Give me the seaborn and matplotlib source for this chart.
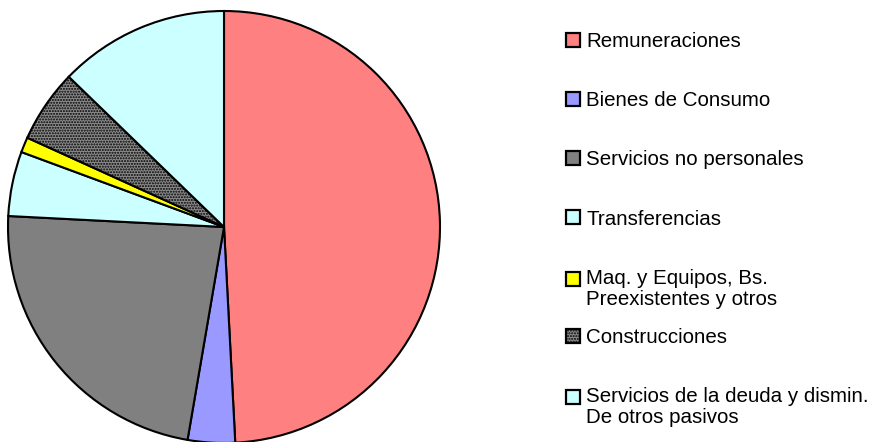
import seaborn as sns
import matplotlib.pyplot as plt
from matplotlib.patches import Patch

# shares of the budget (percent)
categorias = ['Remuneraciones',
              'Bienes de Consumo',
              'Servicios no personales',
              'Transferencias',
              'Maq. y Equipos, Bs.\nPreexistentes y otros',
              'Construcciones',
              'Servicios de la deuda y dismin.\nDe otros pasivos']
porcentajes = [49.17, 3.53, 23.11, 4.83, 1.14, 5.46, 12.76]

colores = ['#FF8080', '#9999FF', '#808080', '#CCFFFF', '#FFFF00', '#8C8C8C', '#CCFFFF']
tramas = [None, None, None, None, None, '......', None]

sns.set_theme(style='white')
plt.rcParams['font.family'] = ['Liberation Sans', 'DejaVu Sans']
plt.rcParams['text.color'] = 'black'

W, H = 878, 442
fig = plt.figure(figsize=(W / 100, H / 100), dpi=100)

# pie: centre at (224, 227) px from top-left, radius 216 px
r_px, cx, cy = 216, 224, 227
half = 220
ax = fig.add_axes([(cx - half) / W, (H - cy - half) / H, 2 * half / W, 2 * half / H])
wedges, _ = ax.pie(porcentajes, colors=colores, startangle=90, counterclock=False,
                   wedgeprops=dict(edgecolor='black', linewidth=1.5))
for w, t in zip(wedges, tramas):
    if t:
        w.set_hatch(t)
lim = half / r_px
ax.set_xlim(-lim, lim)
ax.set_ylim(-lim, lim)
ax.axis('off')

# legend: one row every ~59 px, multi-line labels keep the box on the first line
paso = 59.2
fs = 14.8
for i, (lab, col, t) in enumerate(zip(categorias, colores, tramas)):
    h = Patch(facecolor=col, edgecolor='black', linewidth=1.6, hatch=t)
    leg = fig.legend([h], [lab], loc='upper left',
                     bbox_to_anchor=(566 / W, 1 - (32.0 + paso * i) / H),
                     frameon=False, fontsize=fs, borderpad=0, borderaxespad=0,
                     handlelength=0.68, handleheight=0.68, handletextpad=0.3)
    leg.get_texts()[0].set_linespacing(1.12)
    leg.get_texts()[0].set_color('black')
    extra = lab.count('\n')
    if extra:
        caja = leg.legend_handles[0]
        caja.set_y(caja.get_y() + extra * 7.2)

fig.savefig('out.png', dpi=100)
